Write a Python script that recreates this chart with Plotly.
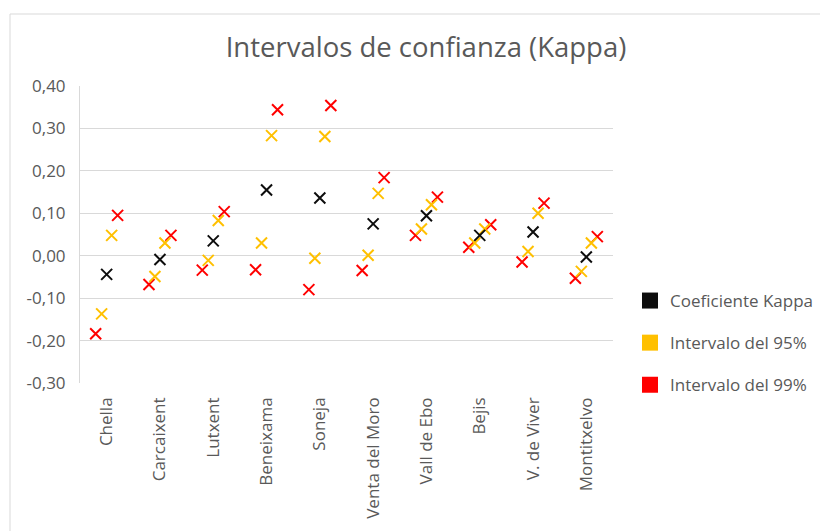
import plotly.graph_objects as go

categories = ["Chella", "Carcaixent", "Lutxent", "Beneixama", "Soneja",
              "Venta del Moro", "Vall de Ebo", "Bejis", "V. de Viver", "Montitxelvo"]
kappa = [-0.044, -0.009, 0.035, 0.155, 0.136, 0.075, 0.094, 0.048, 0.056, -0.003]
ic95_low = [-0.137, -0.049, -0.011, 0.030, -0.006, 0.001, 0.063, 0.030, 0.010, -0.037]
ic95_high = [0.048, 0.030, 0.083, 0.283, 0.281, 0.147, 0.120, 0.063, 0.100, 0.030]
ic99_low = [-0.184, -0.068, -0.034, -0.033, -0.080, -0.035, 0.048, 0.020, -0.015, -0.053]
ic99_high = [0.095, 0.048, 0.104, 0.344, 0.354, 0.184, 0.138, 0.073, 0.124, 0.045]
y_ticks = [0.40, 0.30, 0.20, 0.10, 0.00, -0.10, -0.20, -0.30]
y_ticktext = ["0,40", "0,30", "0,20", "0,10", "0,00", "-0,10", "-0,20", "-0,30"]

BLACK = "#0d0d0d"
YELLOW = "#FFC000"
RED = "#FF0000"
FONT = "Open Sans"
TXT = "#595959"

idx = list(range(len(categories)))
off95 = 0.094
off99 = 0.206

def xs(offset):
    return [i + offset for i in idx]

fig = go.Figure()
mk = dict(symbol="x-thin-open", size=11)

def add(x, y, color):
    fig.add_trace(go.Scatter(x=x, y=y, mode="markers", showlegend=False,
                             marker=dict(color=color, line=dict(color=color, width=2), **mk),
                             hoverinfo="y"))

add(xs(-off99), ic99_low, RED)
add(xs(off99), ic99_high, RED)
add(xs(-off95), ic95_low, YELLOW)
add(xs(off95), ic95_high, YELLOW)
add(xs(0), kappa, BLACK)

for name, color, grp in [("Coeficiente Kappa", BLACK, "a"),
                         ("Intervalo del 95%", YELLOW, "b"),
                         ("Intervalo del 99%", RED, "c")]:
    fig.add_trace(go.Scatter(x=[None], y=[None], mode="markers", name=name,
                             legendgroup=grp,
                             marker=dict(symbol="square", size=16, color=color,
                                         line=dict(width=0))))

fig.update_layout(
    width=828, height=531,
    margin=dict(l=72, r=223, t=78, b=156),
    paper_bgcolor="white", plot_bgcolor="white",
    title=dict(text="Intervalos de confianza (Kappa)", x=418 / 828, xanchor="center",
               y=1 - 39 / 531, yanchor="middle",
               font=dict(family=FONT, size=27.5, color=TXT)),
    font=dict(family=FONT, size=17, color=TXT),
    xaxis=dict(range=[-0.5, 9.5], tickvals=idx, ticktext=categories, tickangle=-90,
               showgrid=False, zeroline=False, showline=False, ticks="",
               ticklabelstandoff=10,
               tickfont=dict(family=FONT, size=17, color=TXT)),
    yaxis=dict(range=[-0.30, 0.40], tickvals=y_ticks, ticktext=y_ticktext,
               showgrid=True, gridcolor="#d9d9d9", gridwidth=1,
               zeroline=True, zerolinecolor="#d9d9d9", zerolinewidth=1,
               showline=True, linecolor="#d9d9d9", linewidth=1, ticks="",
               ticklabelstandoff=10,
               tickfont=dict(family=FONT, size=17, color=TXT)),
    legend=dict(xref="container", yref="container",
                x=622 / 828, xanchor="left", y=1 - 275 / 531, yanchor="top",
                traceorder="grouped", tracegroupgap=17,
                font=dict(family=FONT, size=17, color=TXT),
                bgcolor="rgba(0,0,0,0)"),
    shapes=[dict(type="rect", xref="paper", yref="paper",
                 x0=(10 - 80) / 533, x1=(850 - 80) / 533,
                 y0=(383 - 560) / 297, y1=(383 - 14) / 297,
                 line=dict(color="#d9d9d9", width=1), fillcolor="rgba(0,0,0,0)",
                 layer="below")],
)

fig.write_html("out.html")
